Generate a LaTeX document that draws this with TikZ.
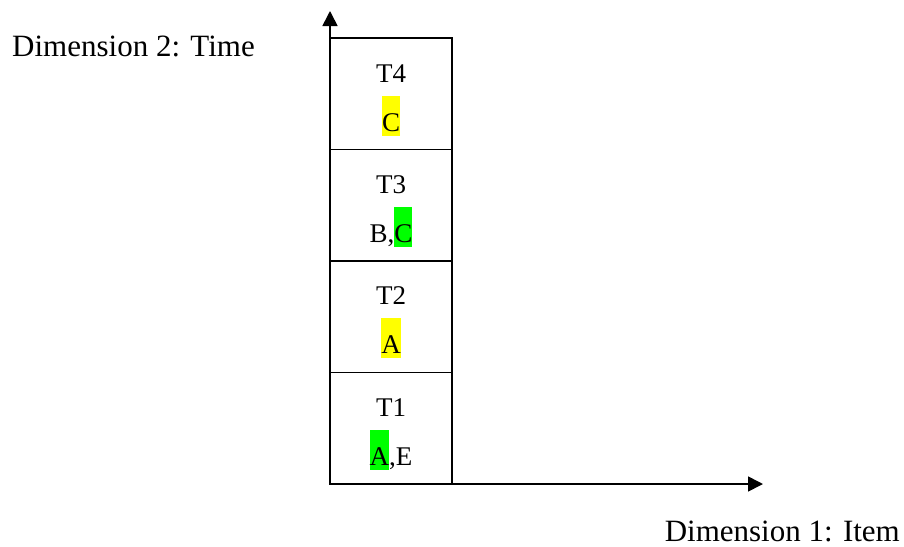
\documentclass[tikz,border=0pt]{standalone}
\usepackage{fontspec}
\setmainfont{Liberation Serif}
\usetikzlibrary{arrows.meta}
\definecolor{hlyellow}{RGB}{255,255,0}
\definecolor{hlgreen}{RGB}{0,255,0}
\newcommand{\hlbox}[2]{{\setlength{\fboxsep}{0pt}\colorbox{#1}{\rule[-5pt]{0pt}{40pt}#2}}}
\tikzset{
  cell/.style={draw=black, line width=1.6pt, minimum width=122pt, minimum height=111.5pt, inner sep=0pt},
  lab/.style={font=\fontsize{27}{32}\selectfont, inner sep=0pt, anchor=base},
  dimlab/.style={font=\fontsize{31}{36}\selectfont, inner sep=0pt},
  axis/.style={line width=1.6pt, -{Triangle[length=15pt,width=15pt]}}
}
\begin{document}
\begin{tikzpicture}[x=1pt,y=-1pt]
\useasboundingbox (0,0) rectangle (904,546);
\node[cell] (b4) at (391,93.75) {};
\node[cell] (b3) at (391,205.25) {};
\node[cell] (b2) at (391,316.75) {};
\node[cell] (b1) at (391,428.25) {};
\node[lab] (l4) at (391,82) {T4};
\node[lab] (i4) at (391,131) {\hlbox{hlyellow}{C}};
\node[lab] (l3) at (391,193) {T3};
\node[lab] (i3) at (391,242) {B,\hlbox{hlgreen}{C}};
\node[lab] (l2) at (391,304) {T2};
\node[lab] (i2) at (391,353) {\hlbox{hlyellow}{A}};
\node[lab] (l1) at (391,416) {T1};
\node[lab] (i1) at (391,465) {\hlbox{hlgreen}{A},E};
\coordinate (origin) at (330,484);
\coordinate (ytip) at (330,11);
\coordinate (xtip) at (763,484);
\draw[axis] (origin) -- (ytip);
\draw[axis] (origin) -- (xtip);
\node[dimlab, anchor=base west] (d2) at (12,56) {Dimension 2: Time};
\node[dimlab, anchor=base east] (d1) at (900,541) {Dimension 1: Item};
\end{tikzpicture}
\end{document}
